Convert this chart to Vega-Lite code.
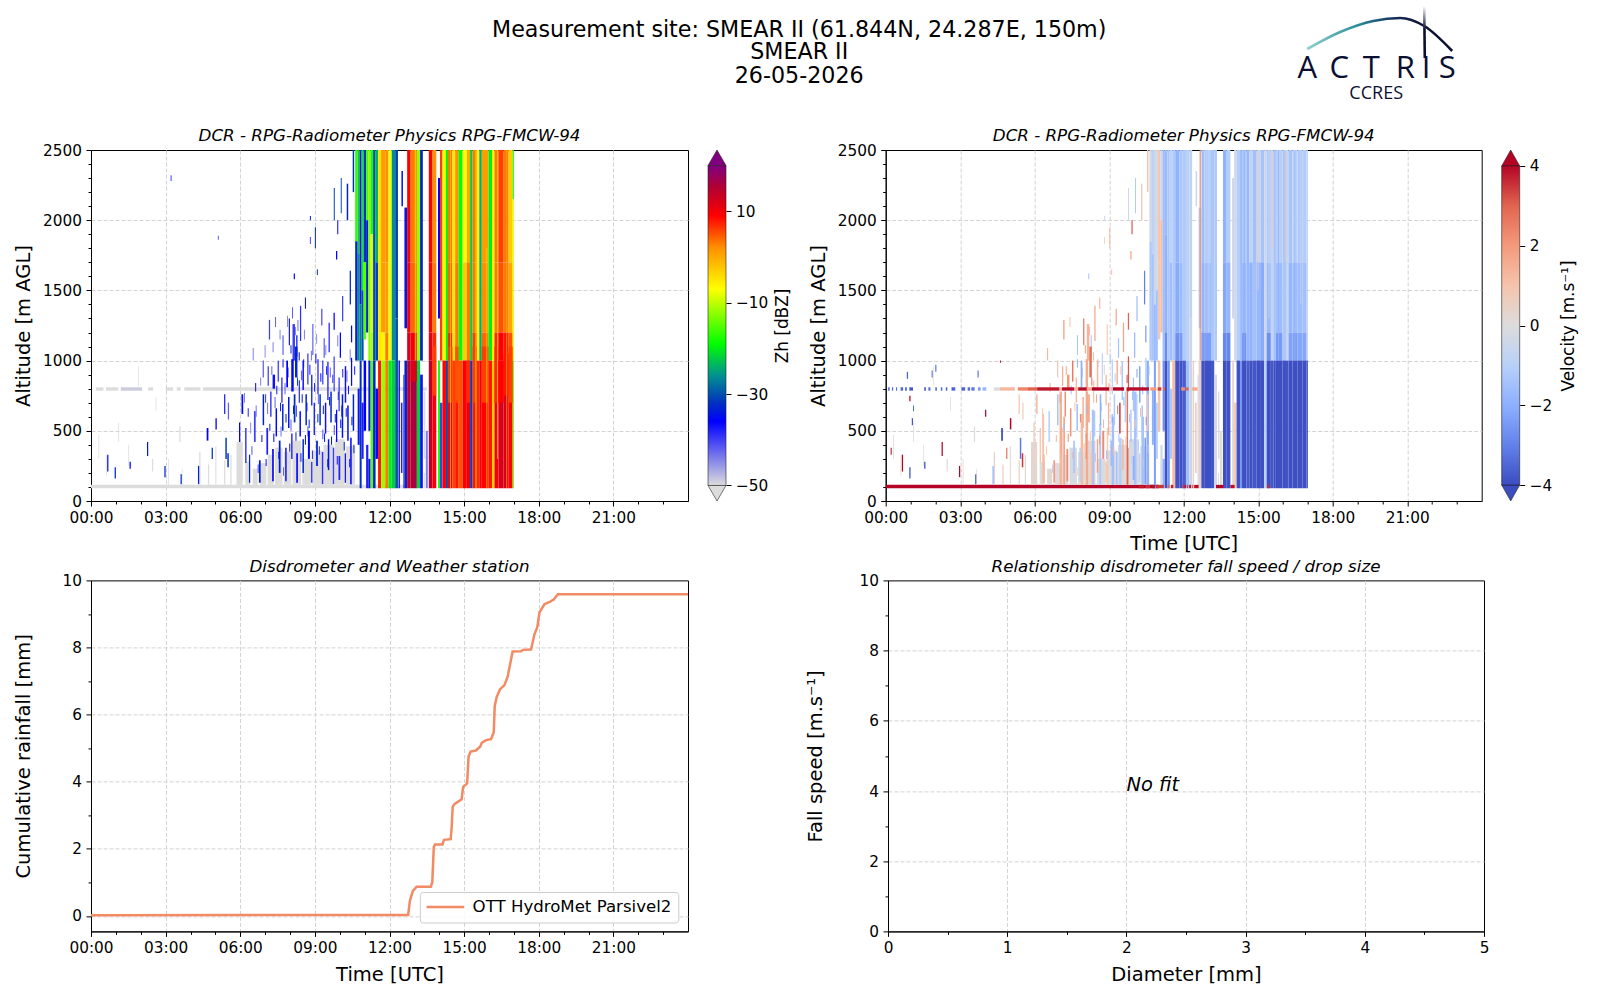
{
"$schema":"https://vega.github.io/schema/vega-lite/v6.json",
"padding":{"left":12,"top":0,"right":0,"bottom":0},
"background":"white",
"config":{"font":"DejaVu Sans","view":{"stroke":"black","strokeWidth":1},
"axis":{"labelFontSize":15.3,"titleFontSize":19.5,"titleFontWeight":"normal","labelColor":"black","titleColor":"black","tickColor":"black","domainColor":"black","gridColor":"#d3d3d3","gridDash":[4,2],"labelOverlap":false,"labelFlush":false,"labelPadding":4.5},
"title":{"fontSize":16.7,"fontStyle":"italic","fontWeight":"normal","offset":-2}},
"datasets":{
"cells":[
{"t":0,"e":11,"a":91,"b":115,"z":-50,"v":4},{"t":11,"e":12.7,"a":91,"b":115,"z":-50},
{"t":0.2,"e":0.5,"a":786,"b":810,"z":-50},{"t":0.6,"e":1.1,"a":786,"b":810,"z":-50},{"t":1.2,"e":2.05,"a":786,"b":810,"z":-49},{"t":2.3,"e":2.5,"a":786,"b":810,"z":-50},{"t":3,"e":3.3,"a":786,"b":810,"z":-50},{"t":3.45,"e":3.6,"a":786,"b":810,"z":-50},{"t":3.75,"e":4.4,"a":786,"b":810,"z":-50},{"t":4.5,"e":13.5,"a":786,"b":810,"z":-50},
{"t":1.1,"e":1.13,"a":420,"b":560,"z":-50,"v":0.1},{"t":1.5,"e":1.53,"a":250,"b":400,"z":-50,"v":0},{"t":0.3,"e":0.33,"a":300,"b":470,"z":-50,"v":0.2},{"t":0.6,"e":0.63,"a":180,"b":330,"z":-50,"v":0.1},{"t":1.9,"e":1.93,"a":820,"b":960,"z":-50,"v":0},{"t":2.6,"e":2.63,"a":640,"b":740,"z":-50,"v":0.2},{"t":3.55,"e":3.6,"a":420,"b":530,"z":-50,"v":0},{"t":3.1,"e":3.13,"a":115,"b":300,"z":-50,"v":0.3},{"t":3.65,"e":3.68,"a":115,"b":230,"z":-50,"v":0.1},{"t":2.45,"e":2.5,"a":210,"b":300,"z":-50,"v":0},{"t":4.35,"e":4.4,"a":115,"b":350,"z":-50,"v":0.4},{"t":4.7,"e":4.75,"a":115,"b":260,"z":-50,"v":0.6},{"t":5.0,"e":5.04,"a":115,"b":390,"z":-50,"v":0.2},{"t":5.35,"e":5.4,"a":115,"b":290,"z":-50,"v":0.5},{"t":5.6,"e":5.65,"a":115,"b":330,"z":-50,"v":0.1},
{"t":5.85,"e":6.1,"a":115,"b":420,"z":-50,"v":0.3},{"t":6.2,"e":6.4,"a":115,"b":280,"z":-50,"v":0},{"t":6.5,"e":6.7,"a":115,"b":230,"z":-50,"v":0.2},{"t":6.8,"e":7.05,"a":115,"b":270,"z":-50,"v":0},{"t":7.1,"e":7.35,"a":115,"b":330,"z":-50,"v":0.1},{"t":7.4,"e":7.7,"a":115,"b":380,"z":-50,"v":-0.2},{"t":7.75,"e":8.05,"a":115,"b":350,"z":-50,"v":0},{"t":8.1,"e":8.45,"a":115,"b":430,"z":-50,"v":0.2},{"t":8.5,"e":8.85,"a":115,"b":300,"z":-50,"v":-0.1},{"t":8.9,"e":9.3,"a":115,"b":360,"z":-50,"v":0},{"t":9.35,"e":9.75,"a":115,"b":400,"z":-50,"v":0.1},{"t":9.8,"e":10.2,"a":115,"b":440,"z":-50,"v":-0.2},{"t":10.25,"e":10.62,"a":115,"b":390,"z":-50,"v":0},
{"t":6.3,"e":6.38,"a":115,"b":620,"v":1},{"t":7,"e":7.1,"a":115,"b":780,"v":1.4},{"t":7.15,"e":7.22,"a":115,"b":600,"v":1.7},{"t":7.85,"e":7.95,"a":115,"b":620,"v":1.2},{"t":8.05,"e":8.15,"a":115,"b":780,"v":1.6},{"t":8.9,"e":8.96,"a":115,"b":520,"v":0.8},{"t":9.7,"e":9.76,"a":115,"b":800,"v":2.8},{"t":8.3,"e":8.4,"a":115,"b":650,"v":-1.4},{"t":8.6,"e":8.68,"a":115,"b":550,"v":-1.2},{"t":9.1,"e":9.2,"a":115,"b":600,"v":-1.5},{"t":9.4,"e":9.5,"a":115,"b":450,"v":-1.1},{"t":10,"e":10.1,"a":115,"b":780,"v":-1.4},{"t":10.3,"e":10.4,"a":115,"b":600,"v":-1.5},{"t":10.5,"e":10.6,"a":115,"b":1000,"v":-2},
{"t":6.15,"e":6.19,"a":700,"b":770,"z":-44},{"t":6.4,"e":6.44,"a":480,"b":560,"z":-45},{"t":6.62,"e":6.66,"a":600,"b":680,"z":-43},{"t":6.8,"e":6.84,"a":820,"b":880,"z":-44},{"t":6.98,"e":7.02,"a":1020,"b":1110,"z":-45},{"t":7.08,"e":7.12,"a":620,"b":700,"z":-43},{"t":7.3,"e":7.34,"a":1060,"b":1130,"z":-44},{"t":7.38,"e":7.42,"a":660,"b":740,"z":-42},{"t":7.58,"e":7.62,"a":1150,"b":1220,"z":-44},{"t":7.62,"e":7.66,"a":460,"b":530,"z":-43},{"t":7.78,"e":7.82,"a":760,"b":840,"z":-42},{"t":7.88,"e":7.92,"a":1240,"b":1320,"z":-45},{"t":8.02,"e":8.06,"a":500,"b":580,"z":-42},{"t":8.08,"e":8.12,"a":1300,"b":1380,"z":-42},{"t":8.24,"e":8.28,"a":600,"b":680,"z":-41},{"t":8.3,"e":8.34,"a":1210,"b":1290,"z":-43},{"t":8.44,"e":8.48,"a":860,"b":930,"z":-42},{"t":8.56,"e":8.6,"a":1150,"b":1220,"z":-44},{"t":8.7,"e":8.74,"a":460,"b":530,"z":-41},{"t":8.84,"e":8.88,"a":1000,"b":1070,"z":-43},{"t":9.05,"e":9.09,"a":1120,"b":1190,"z":-45},{"t":9.12,"e":9.16,"a":690,"b":760,"z":-42},{"t":9.3,"e":9.34,"a":440,"b":510,"z":-41},{"t":9.42,"e":9.46,"a":1040,"b":1110,"z":-44},{"t":9.6,"e":9.64,"a":880,"b":950,"z":-42},{"t":9.76,"e":9.8,"a":470,"b":540,"z":-41},{"t":9.9,"e":9.94,"a":1100,"b":1180,"z":-44},{"t":10.05,"e":10.09,"a":600,"b":680,"z":-42},{"t":10.27,"e":10.31,"a":850,"b":930,"z":-43},{"t":10.4,"e":10.44,"a":1000,"b":1080,"z":-44},
{"t":6.3,"e":6.34,"a":600,"b":660,"z":-38,"v":1},{"t":6.45,"e":6.49,"a":330,"b":390,"z":-41,"v":0.9},{"t":6.6,"e":6.64,"a":780,"b":840,"z":-36,"v":1.6},{"t":6.7,"e":6.74,"a":200,"b":260,"z":-40,"v":-1},{"t":6.85,"e":6.89,"a":420,"b":470,"z":-35,"v":1.3},{"t":7,"e":7.04,"a":700,"b":760,"z":-39,"v":2},{"t":7.02,"e":7.06,"a":250,"b":300,"z":-37,"v":1.1},{"t":7.17,"e":7.21,"a":500,"b":550,"z":-34,"v":-1.6},{"t":7.25,"e":7.29,"a":900,"b":960,"z":-42,"v":1.8},{"t":7.33,"e":7.37,"a":420,"b":480,"z":-36,"v":2.2},{"t":7.45,"e":7.49,"a":760,"b":820,"z":-33,"v":-1.5},{"t":7.52,"e":7.56,"a":300,"b":350,"z":-40,"v":1.6},{"t":7.6,"e":7.64,"a":640,"b":700,"z":-37,"v":0.9},{"t":7.7,"e":7.74,"a":950,"b":1010,"z":-35,"v":-2},{"t":7.72,"e":7.76,"a":180,"b":240,"z":-42,"v":1},{"t":7.82,"e":7.86,"a":560,"b":620,"z":-34,"v":2.4},{"t":7.9,"e":7.94,"a":880,"b":950,"z":-38,"v":-1},{"t":7.97,"e":8.01,"a":350,"b":410,"z":-36,"v":1.4},{"t":8.02,"e":8.06,"a":1050,"b":1110,"z":-33,"v":2},{"t":8.12,"e":8.16,"a":620,"b":680,"z":-32,"v":-1.8},{"t":8.18,"e":8.22,"a":1180,"b":1240,"z":-36,"v":1.5},{"t":8.22,"e":8.26,"a":430,"b":490,"z":-33,"v":1},{"t":8.28,"e":8.32,"a":820,"b":880,"z":-31,"v":2.8},{"t":8.35,"e":8.39,"a":1000,"b":1060,"z":-35,"v":1.2},{"t":8.42,"e":8.46,"a":280,"b":340,"z":-37,"v":-1.3},{"t":8.47,"e":8.51,"a":700,"b":760,"z":-34,"v":1.7},{"t":8.53,"e":8.57,"a":950,"b":1010,"z":-39,"v":-0.8},{"t":8.6,"e":8.64,"a":400,"b":470,"z":-35,"v":2.1},{"t":8.66,"e":8.7,"a":640,"b":700,"z":-36,"v":-1.1},{"t":8.75,"e":8.79,"a":520,"b":580,"z":-33,"v":1.3},{"t":8.78,"e":8.82,"a":900,"b":970,"z":-37,"v":0.7},{"t":8.88,"e":8.92,"a":300,"b":360,"z":-38,"v":-1.7},{"t":8.97,"e":9.01,"a":780,"b":840,"z":-34,"v":1.8},{"t":9.02,"e":9.06,"a":980,"b":1050,"z":-36,"v":-1.2},{"t":9.1,"e":9.14,"a":560,"b":620,"z":-32,"v":-2.2},{"t":9.16,"e":9.2,"a":330,"b":390,"z":-39,"v":1.2},{"t":9.22,"e":9.26,"a":850,"b":910,"z":-35,"v":-1},{"t":9.32,"e":9.36,"a":620,"b":680,"z":-37,"v":2.6},{"t":9.37,"e":9.41,"a":420,"b":480,"z":-34,"v":-1.4},{"t":9.45,"e":9.49,"a":900,"b":960,"z":-38,"v":1.1},{"t":9.5,"e":9.54,"a":240,"b":300,"z":-36,"v":-0.8},{"t":9.57,"e":9.61,"a":680,"b":740,"z":-33,"v":-1.9},{"t":9.65,"e":9.69,"a":400,"b":460,"z":-35,"v":0.9},{"t":9.7,"e":9.74,"a":840,"b":900,"z":-39,"v":3.4},{"t":9.8,"e":9.84,"a":560,"b":620,"z":-34,"v":-1.3},{"t":9.88,"e":9.92,"a":260,"b":320,"z":-37,"v":-0.7},{"t":9.92,"e":9.96,"a":720,"b":780,"z":-32,"v":-1.6},{"t":10.02,"e":10.06,"a":520,"b":580,"z":-36,"v":0.8},{"t":10.1,"e":10.14,"a":880,"b":940,"z":-38,"v":-2.3},{"t":10.16,"e":10.2,"a":360,"b":420,"z":-33,"v":-1},{"t":10.24,"e":10.28,"a":600,"b":660,"z":-35,"v":1.2},{"t":10.33,"e":10.37,"a":760,"b":820,"z":-37,"v":-1.7},{"t":10.38,"e":10.42,"a":240,"b":300,"z":-34,"v":-0.6},{"t":10.47,"e":10.51,"a":540,"b":600,"z":-36,"v":-2.5},{"t":10.55,"e":10.59,"a":340,"b":400,"z":-33,"v":-1.2},{"t":10.58,"e":10.62,"a":900,"b":960,"z":-37,"v":-1.8},
{"t":3.2,"e":3.24,"a":2280,"b":2320,"z":-40},{"t":5.1,"e":5.13,"a":1860,"b":1890,"z":-38},{"t":8.8,"e":8.84,"a":2000,"b":2030,"z":-32,"v":-0.6},{"t":9,"e":9.04,"a":1800,"b":1950,"z":-33,"v":1.2},{"t":9.76,"e":9.8,"a":2000,"b":2230,"z":-31,"v":-0.5},{"t":10.04,"e":10.08,"a":2050,"b":2300,"z":-30,"v":-1.2},{"t":10.28,"e":10.34,"a":2000,"b":2260,"z":-33,"v":0.6},{"t":10.52,"e":10.58,"a":2200,"b":2500,"z":-32,"v":1},{"t":9.9,"e":9.94,"a":1900,"b":2000,"z":-36,"v":3.5},{"t":8.8,"e":8.83,"a":1830,"b":1880,"z":-35,"v":1},{"t":9.85,"e":9.9,"a":1720,"b":1780,"z":-36,"v":1.8},{"t":8.15,"e":8.2,"a":1580,"b":1620,"z":-37,"v":-1},{"t":9.08,"e":9.12,"a":1610,"b":1650,"z":-38,"v":0.8},{"t":8.6,"e":8.64,"a":1370,"b":1450,"z":-36,"v":1.6},{"t":9.26,"e":9.3,"a":1250,"b":1370,"z":-38,"v":2.2},{"t":9.75,"e":9.8,"a":1220,"b":1340,"z":-36,"v":3},{"t":10.1,"e":10.14,"a":1280,"b":1460,"z":-34,"v":-2},{"t":10.4,"e":10.45,"a":1400,"b":1640,"z":-33,"v":-3},{"t":10.45,"e":10.5,"a":1130,"b":1250,"z":-35,"v":-2.4},{"t":7.15,"e":7.2,"a":1150,"b":1290,"z":-40,"v":2},{"t":7.4,"e":7.44,"a":1240,"b":1310,"z":-42,"v":1},{"t":7.7,"e":7.74,"a":1040,"b":1180,"z":-40,"v":-1.5},{"t":7.95,"e":8,"a":1110,"b":1300,"z":-38,"v":2.6},{"t":8.1,"e":8.2,"a":1000,"b":1260,"z":-40,"v":1.4},{"t":8.25,"e":8.3,"a":1030,"b":1180,"z":-34,"v":-1},{"t":8.4,"e":8.45,"a":1140,"b":1390,"z":-39,"v":1.7},{"t":8.9,"e":8.94,"a":1040,"b":1260,"z":-40,"v":1.1},{"t":9.35,"e":9.4,"a":1020,"b":1160,"z":-42,"v":-1.4},{"t":9.55,"e":9.6,"a":1060,"b":1270,"z":-38,"v":1.8},{"t":10,"e":10.05,"a":1020,"b":1200,"z":-36,"v":-1.7},{"t":6.5,"e":6.54,"a":1000,"b":1090,"z":-44,"v":1.5},
{"t":6.9,"e":6.95,"a":880,"b":1000,"z":-42,"v":0.8},{"t":7.1,"e":7.15,"a":820,"b":960,"z":-40,"v":1.5},{"t":7.3,"e":7.4,"a":800,"b":900,"z":-37,"v":2},{"t":7.5,"e":7.56,"a":850,"b":1000,"z":-41,"v":2.6},{"t":7.65,"e":7.7,"a":700,"b":880,"z":-38,"v":1.4},{"t":7.85,"e":7.92,"a":810,"b":1000,"z":-36,"v":-2},{"t":8.05,"e":8.15,"a":780,"b":1010,"z":-35,"v":1.6},{"t":8.2,"e":8.3,"a":880,"b":1100,"z":-33,"v":2.8},{"t":8.35,"e":8.4,"a":700,"b":860,"z":-39,"v":1},{"t":8.5,"e":8.56,"a":790,"b":1000,"z":-37,"v":1.3},{"t":8.7,"e":8.74,"a":830,"b":1050,"z":-36,"v":-1.2},{"t":8.85,"e":8.9,"a":680,"b":900,"z":-34,"v":1.4},{"t":9.1,"e":9.15,"a":760,"b":1010,"z":-38,"v":-1},{"t":9.3,"e":9.34,"a":830,"b":1000,"z":-35,"v":2.4},{"t":9.5,"e":9.55,"a":720,"b":990,"z":-37,"v":-1.5},{"t":9.75,"e":9.8,"a":780,"b":1030,"z":-40,"v":3.2},{"t":9.95,"e":10,"a":640,"b":880,"z":-39,"v":-1.3},{"t":10.2,"e":10.26,"a":700,"b":960,"z":-37,"v":-2.2},{"t":10.45,"e":10.5,"a":820,"b":1020,"z":-35,"v":-1.1},
{"t":5.35,"e":5.4,"a":620,"b":760,"z":-38,"v":0.9},{"t":5.5,"e":5.55,"a":580,"b":700,"z":-42,"v":0.6},{"t":5.95,"e":6,"a":420,"b":560,"z":-36,"v":0.9},{"t":6.05,"e":6.12,"a":620,"b":760,"z":-35,"v":1.1},{"t":6.2,"e":6.25,"a":270,"b":520,"z":-37,"v":1},{"t":6.35,"e":6.4,"a":130,"b":330,"z":-33,"v":1.4},{"t":6.55,"e":6.62,"a":420,"b":640,"z":-40,"v":-0.8},{"t":6.75,"e":6.82,"a":130,"b":290,"z":-34,"v":2},{"t":6.9,"e":6.96,"a":540,"b":760,"z":-33,"v":-1.4},{"t":7.05,"e":7.12,"a":330,"b":520,"z":-38,"v":1.6},{"t":7.2,"e":7.26,"a":600,"b":780,"z":-40,"v":2.2},{"t":7.28,"e":7.35,"a":140,"b":370,"z":-37,"v":2.3},{"t":7.42,"e":7.48,"a":460,"b":660,"z":-35,"v":2.1},{"t":7.55,"e":7.62,"a":200,"b":430,"z":-34,"v":-1.3},{"t":7.68,"e":7.74,"a":500,"b":690,"z":-33,"v":-1.6},{"t":7.8,"e":7.87,"a":140,"b":380,"z":-39,"v":-1},{"t":7.92,"e":7.98,"a":520,"b":740,"z":-34,"v":1.5},{"t":8.05,"e":8.1,"a":300,"b":480,"z":-36,"v":2.2},{"t":8.15,"e":8.22,"a":560,"b":760,"z":-32,"v":1.7},{"t":8.25,"e":8.32,"a":130,"b":340,"z":-37,"v":1},{"t":8.38,"e":8.44,"a":460,"b":640,"z":-35,"v":-1.2},{"t":8.5,"e":8.56,"a":200,"b":440,"z":-33,"v":1.8},{"t":8.62,"e":8.68,"a":540,"b":760,"z":-33,"v":-2},{"t":8.72,"e":8.8,"a":300,"b":500,"z":-36,"v":2.3},{"t":8.85,"e":8.9,"a":130,"b":280,"z":-38,"v":1.2},{"t":8.95,"e":9,"a":470,"b":700,"z":-35,"v":1.5},{"t":9.05,"e":9.12,"a":250,"b":430,"z":-34,"v":-1.6},{"t":9.18,"e":9.24,"a":540,"b":760,"z":-32,"v":-1.2},{"t":9.28,"e":9.34,"a":120,"b":350,"z":-39,"v":-1.7},{"t":9.4,"e":9.46,"a":480,"b":700,"z":-37,"v":3.5},{"t":9.52,"e":9.58,"a":220,"b":440,"z":-34,"v":1.3},{"t":9.62,"e":9.68,"a":560,"b":780,"z":-33,"v":-0.9},{"t":9.72,"e":9.78,"a":120,"b":380,"z":-40,"v":3},{"t":9.85,"e":9.9,"a":420,"b":650,"z":-36,"v":-1.5},{"t":9.95,"e":10.02,"a":150,"b":320,"z":-38,"v":-2},{"t":10.08,"e":10.14,"a":450,"b":760,"z":-34,"v":-1},{"t":10.2,"e":10.25,"a":130,"b":340,"z":-37,"v":-0.8},{"t":10.3,"e":10.36,"a":430,"b":680,"z":-35,"v":-1.3},{"t":10.42,"e":10.48,"a":120,"b":450,"z":-36,"v":-2.5},{"t":10.52,"e":10.58,"a":500,"b":760,"z":-33,"v":0.9},
{"t":0.65,"e":0.7,"a":210,"b":330,"z":-34,"v":4},{"t":0.95,"e":1,"a":160,"b":240,"z":-33,"v":-4},{"t":1.55,"e":1.6,"a":230,"b":280,"z":-36,"v":-4},{"t":2.25,"e":2.3,"a":320,"b":420,"z":-34,"v":4},{"t":2.95,"e":3,"a":170,"b":250,"z":-33,"v":4},{"t":3.6,"e":3.65,"a":120,"b":190,"z":-32,"v":-3.5},{"t":4.3,"e":4.35,"a":120,"b":250,"z":-33,"v":-2},{"t":4.65,"e":4.72,"a":430,"b":520,"z":-36,"v":-4},{"t":4.85,"e":4.9,"a":300,"b":380,"z":-32,"v":2.6},{"t":5,"e":5.06,"a":510,"b":590,"z":-38,"v":4},{"t":5.4,"e":5.46,"a":300,"b":450,"z":-31,"v":-3.2},{"t":5.48,"e":5.54,"a":240,"b":340,"z":-32,"v":3.5},
{"t":2,"e":2.04,"a":920,"b":970,"v":-3.8},{"t":1.85,"e":1.89,"a":880,"b":930,"v":-3.6},{"t":0.85,"e":0.9,"a":870,"b":920,"v":-3.6},{"t":3.7,"e":3.74,"a":880,"b":930,"v":-3.8},{"t":4.6,"e":4.64,"a":985,"b":1000,"v":4},{"t":0.95,"e":1,"a":710,"b":750,"v":4},{"t":1.1,"e":1.14,"a":640,"b":680,"v":-3.5},{"t":1.05,"e":1.1,"a":540,"b":590,"v":-3.8},{"t":4,"e":4.05,"a":600,"b":650,"v":4},{"t":0.2,"e":0.24,"a":330,"b":380,"v":4},
{"t":10.62,"e":10.72,"a":1850,"b":2500,"z":-17,"v":-0.4},{"t":10.62,"e":10.72,"a":1000,"b":1850,"z":-33,"v":-1.2},
{"t":10.72,"e":10.8,"a":1760,"b":2500,"z":-22,"v":-0.9},{"t":10.72,"e":10.8,"a":1000,"b":1760,"z":-26,"v":-1.4},{"t":10.72,"e":10.8,"a":400,"b":800,"z":-37,"v":-2},
{"t":10.8,"e":10.88,"a":1400,"b":2500,"z":-34,"v":-0.6},{"t":10.8,"e":10.88,"a":1000,"b":1400,"z":-27,"v":-1.7},{"t":10.8,"e":10.88,"a":91,"b":1000,"z":-32,"v":-2.4},
{"t":10.88,"e":10.96,"a":1500,"b":2500,"z":-20,"v":-0.3},{"t":10.88,"e":10.96,"a":1000,"b":1500,"z":-30,"v":-1.5},{"t":10.88,"e":10.96,"a":300,"b":700,"z":-38,"v":-1},
{"t":10.96,"e":11.06,"a":1700,"b":2500,"z":-32,"v":0.9},{"t":10.96,"e":11.06,"a":1150,"b":1700,"z":-15,"v":0.8},{"t":10.96,"e":11.06,"a":500,"b":1000,"z":-36,"v":1},
{"t":11.06,"e":11.15,"a":2000,"b":2500,"z":-16,"v":-0.5},{"t":11.06,"e":11.15,"a":1200,"b":2000,"z":-33,"v":1.2},{"t":11.06,"e":11.15,"a":91,"b":400,"z":-38,"v":-0.3},
{"t":11.15,"e":11.24,"a":1000,"b":2500,"z":-13,"v":-1.6},{"t":11.15,"e":11.24,"a":500,"b":1000,"z":-34,"v":-2.8},{"t":11.15,"e":11.24,"a":91,"b":300,"z":-37,"v":-2},
{"t":11.24,"e":11.34,"a":1900,"b":2500,"z":-18,"v":-1.7},{"t":11.24,"e":11.34,"a":1200,"b":1900,"z":-9,"v":-1.9},{"t":11.24,"e":11.34,"a":1000,"b":1200,"z":-11,"v":-2.8},{"t":11.24,"e":11.34,"a":91,"b":1000,"z":-15,"v":-3.9},
{"t":11.34,"e":11.44,"a":1000,"b":2500,"z":-30,"v":-1.3},{"t":11.34,"e":11.44,"a":91,"b":1000,"z":-33,"v":-2.6},
{"t":11.44,"e":11.54,"a":1700,"b":2500,"z":-24,"v":-0.8},{"t":11.44,"e":11.54,"a":1000,"b":1700,"z":-31,"v":-1.6},{"t":11.44,"e":11.54,"a":300,"b":800,"z":-35,"v":-1.2},
{"t":11.54,"e":11.66,"a":1000,"b":2500,"z":-5,"v":-1.2},{"t":11.54,"e":11.66,"a":91,"b":1000,"z":8,"v":1.2},
{"t":11.66,"e":11.83,"a":1700,"b":2500,"z":1,"v":-1.9},{"t":11.66,"e":11.83,"a":1200,"b":1700,"z":1,"v":-2.1},{"t":11.66,"e":11.83,"a":1000,"b":1200,"z":-6,"v":-2.7},{"t":11.66,"e":11.83,"a":91,"b":1000,"z":-12,"v":-3.9},
{"t":11.83,"e":11.96,"a":1700,"b":2500,"z":2,"v":-1.3},{"t":11.83,"e":11.96,"a":1200,"b":1700,"z":1,"v":-1.7},{"t":11.83,"e":11.96,"a":1000,"b":1200,"z":3,"v":-2.5},{"t":11.83,"e":11.96,"a":91,"b":1000,"z":3,"v":-3.9},
{"t":11.96,"e":12.09,"a":1000,"b":2500,"z":-8,"v":-1.2},{"t":11.96,"e":12.09,"a":91,"b":1000,"z":-20,"v":-3.7},
{"t":12.09,"e":12.23,"a":1000,"b":2500,"z":-26,"v":-0.9},{"t":12.09,"e":12.23,"a":91,"b":1000,"z":-22,"v":-1.5},
{"t":12.23,"e":12.34,"a":1300,"b":2500,"z":-31,"v":-0.8},{"t":12.23,"e":12.34,"a":91,"b":1300,"z":-30,"v":-0.5},
{"t":12.36,"e":12.42,"a":91,"b":1000,"z":-37,"v":0.4},{"t":12.48,"e":12.54,"a":2100,"b":2350,"z":-35,"v":-0.5},{"t":12.46,"e":12.52,"a":200,"b":700,"z":-38,"v":1},{"t":12.56,"e":12.6,"a":91,"b":900,"z":-36,"v":-0.8},
{"t":12.6,"e":12.71,"a":1230,"b":2090,"z":-34,"v":-0.9},{"t":12.6,"e":12.71,"a":91,"b":1000,"z":-33,"v":0.5},{"t":12.64,"e":12.69,"a":1000,"b":2500,"v":2.2},
{"t":12.71,"e":12.85,"a":1700,"b":2500,"z":9,"v":-1.2},{"t":12.71,"e":12.85,"a":1200,"b":1700,"z":10,"v":-1.6},{"t":12.71,"e":12.85,"a":1000,"b":1200,"z":12,"v":-2.6},{"t":12.71,"e":12.85,"a":91,"b":1000,"z":14,"v":-3.9},
{"t":12.85,"e":13.1,"a":1700,"b":2500,"z":3,"v":-1.1},{"t":12.85,"e":13.1,"a":1200,"b":1700,"z":4,"v":-1.5},{"t":12.85,"e":13.1,"a":1000,"b":1200,"z":10,"v":-2.4},{"t":12.85,"e":13.1,"a":91,"b":1000,"z":16,"v":-3.95},
{"t":13.1,"e":13.23,"a":1000,"b":2500,"z":-12,"v":-1.3},{"t":13.1,"e":13.23,"a":91,"b":1000,"z":-22,"v":-3.8},
{"t":13.23,"e":13.34,"a":1000,"b":2500,"z":-33,"v":-1.2},{"t":13.23,"e":13.34,"a":91,"b":900,"z":-37,"v":-0.3},
{"t":13.38,"e":13.44,"a":300,"b":780,"z":-50,"v":0},{"t":13.46,"e":13.54,"a":91,"b":500,"z":-44,"v":0.1},{"t":13.38,"e":13.42,"a":91,"b":200,"z":-50,"v":0},
{"t":13.58,"e":13.73,"a":1700,"b":2500,"z":9,"v":-1.9},{"t":13.58,"e":13.73,"a":1200,"b":1700,"z":9,"v":-2.2},{"t":13.58,"e":13.73,"a":1000,"b":1200,"z":11,"v":-2.9},{"t":13.58,"e":13.73,"a":91,"b":1000,"z":14,"v":-3.95},
{"t":13.73,"e":13.88,"a":1700,"b":2500,"z":2,"v":-1.1},{"t":13.73,"e":13.88,"a":1200,"b":1700,"z":3,"v":-1.8},{"t":13.73,"e":13.88,"a":1000,"b":1200,"z":7,"v":-2.9},{"t":13.73,"e":13.88,"a":91,"b":1000,"z":10,"v":-3.9},
{"t":13.95,"e":14.03,"a":1300,"b":2300,"z":-36,"v":-0.5},{"t":13.95,"e":14.03,"a":91,"b":1000,"z":-18,"v":0.2},
{"t":14.03,"e":14.13,"a":1000,"b":2500,"z":6,"v":-0.3},{"t":14.03,"e":14.13,"a":91,"b":700,"z":-40,"v":0.8},
{"t":14.13,"e":14.27,"a":1000,"b":2500,"z":-8,"v":-1.1},{"t":14.13,"e":14.27,"a":91,"b":1000,"z":9,"v":-3.9},
{"t":14.27,"e":14.35,"a":1000,"b":2500,"z":-20,"v":-1.7},{"t":14.27,"e":14.35,"a":91,"b":1000,"z":-30,"v":-2.6},
{"t":14.35,"e":14.53,"a":1700,"b":2500,"z":3,"v":-1.2},{"t":14.35,"e":14.53,"a":1200,"b":1700,"z":4,"v":-1.7},{"t":14.35,"e":14.53,"a":1000,"b":1200,"z":7,"v":-2.6},{"t":14.35,"e":14.53,"a":91,"b":1000,"z":10,"v":-3.95},
{"t":14.53,"e":14.64,"a":1000,"b":2500,"z":-5,"v":-1.8},{"t":14.53,"e":14.64,"a":91,"b":1000,"z":6,"v":-3.7},
{"t":14.64,"e":14.78,"a":1700,"b":2500,"z":2,"v":-0.8},{"t":14.64,"e":14.78,"a":1000,"b":1700,"z":3,"v":-1.9},{"t":14.64,"e":14.78,"a":91,"b":1000,"z":8,"v":-3.9},
{"t":14.78,"e":14.94,"a":1000,"b":2500,"z":-19,"v":-1.5},{"t":14.78,"e":14.94,"a":91,"b":1000,"z":5,"v":-3.8},
{"t":14.94,"e":15.11,"a":1700,"b":2500,"z":-7,"v":-0.6},{"t":14.94,"e":15.11,"a":1000,"b":1700,"z":-3,"v":-1.8},{"t":14.94,"e":15.11,"a":91,"b":1000,"z":9,"v":-3.95},
{"t":15.11,"e":15.24,"a":1700,"b":2500,"z":0,"v":-1.4},{"t":15.11,"e":15.24,"a":1000,"b":1700,"z":3,"v":-2.1},{"t":15.11,"e":15.24,"a":91,"b":1000,"z":11,"v":-3.9},
{"t":15.24,"e":15.34,"a":1000,"b":2500,"z":-22,"v":-0.4},{"t":15.24,"e":15.34,"a":91,"b":1000,"z":-31,"v":-1},
{"t":15.34,"e":15.51,"a":1700,"b":2500,"z":3,"v":-1.2},{"t":15.34,"e":15.51,"a":1200,"b":1700,"z":3,"v":-1.7},{"t":15.34,"e":15.51,"a":1000,"b":1200,"z":6,"v":-2.7},{"t":15.34,"e":15.51,"a":91,"b":1000,"z":8,"v":-3.95},
{"t":15.51,"e":15.61,"a":1000,"b":2500,"z":-6,"v":-0.7},{"t":15.51,"e":15.61,"a":91,"b":1000,"z":7,"v":-3.8},
{"t":15.61,"e":15.71,"a":1000,"b":2500,"z":-24,"v":-1.5},{"t":15.61,"e":15.71,"a":91,"b":1000,"z":10,"v":-3.9},
{"t":15.71,"e":15.98,"a":1700,"b":2500,"z":1,"v":-1},{"t":15.71,"e":15.98,"a":1200,"b":1700,"z":2,"v":-1.6},{"t":15.71,"e":15.98,"a":1000,"b":1200,"z":4,"v":-2.5},{"t":15.71,"e":15.98,"a":91,"b":1000,"z":9,"v":-3.95},
{"t":15.98,"e":16.12,"a":1000,"b":2500,"z":-20,"v":-1.3},{"t":15.98,"e":16.12,"a":91,"b":1000,"z":8,"v":-3.9},
{"t":16.12,"e":16.22,"a":1000,"b":2500,"z":-6,"v":-0.6},{"t":16.12,"e":16.22,"a":91,"b":1000,"z":-3,"v":-3.85},
{"t":16.22,"e":16.38,"a":1700,"b":2500,"z":3,"v":-1.4},{"t":16.22,"e":16.38,"a":1200,"b":1700,"z":3,"v":-1.8},{"t":16.22,"e":16.38,"a":1000,"b":1200,"z":7,"v":-2.3},{"t":16.22,"e":16.38,"a":91,"b":1000,"z":10,"v":-3.95},
{"t":16.38,"e":16.59,"a":1700,"b":2500,"z":6,"v":-0.9},{"t":16.38,"e":16.59,"a":1200,"b":1700,"z":5,"v":-1.6},{"t":16.38,"e":16.59,"a":1000,"b":1200,"z":9,"v":-2.4},{"t":16.38,"e":16.59,"a":91,"b":1000,"z":12,"v":-3.95},
{"t":16.59,"e":16.79,"a":1700,"b":2500,"z":3,"v":-1.2},{"t":16.59,"e":16.79,"a":1200,"b":1700,"z":3,"v":-1.6},{"t":16.59,"e":16.79,"a":1000,"b":1200,"z":8,"v":-2.2},{"t":16.59,"e":16.79,"a":91,"b":1000,"z":12,"v":-3.95},
{"t":16.79,"e":16.95,"a":1700,"b":2500,"z":-3,"v":-1.1},{"t":16.79,"e":16.95,"a":1200,"b":1700,"z":0,"v":-1.5},{"t":16.79,"e":16.95,"a":1000,"b":1200,"z":5,"v":-2.2},{"t":16.79,"e":16.95,"a":91,"b":1000,"z":9,"v":-3.95},
{"t":16.95,"e":17,"a":2150,"b":2500,"z":-18,"v":-0.8},{"t":16.95,"e":17,"a":1000,"b":2150,"z":-8,"v":-0.8},{"t":16.95,"e":17,"a":91,"b":1000,"z":-14,"v":-3.9},
{"t":15.34,"e":15.51,"a":700,"b":1100,"z":6},{"t":15.71,"e":15.98,"a":700,"b":1100,"z":6},{"t":16.22,"e":16.38,"a":700,"b":1100,"z":7},{"t":16.38,"e":16.59,"a":700,"b":1000,"z":9},{"t":16.59,"e":16.79,"a":750,"b":1050,"z":8},{"t":16.79,"e":16.95,"a":700,"b":1100,"z":6},{"t":14.35,"e":14.53,"a":700,"b":1100,"z":6},{"t":12.85,"e":13.1,"a":850,"b":1000,"z":12},{"t":13.73,"e":13.88,"a":750,"b":1100,"z":6},{"t":14.64,"e":14.78,"a":700,"b":1100,"z":5},{"t":15.11,"e":15.24,"a":700,"b":1000,"z":7},
{"t":15.46,"e":15.49,"a":91,"b":2500,"z":-5},{"t":15.9,"e":15.93,"a":91,"b":1800,"z":-4},{"t":16.33,"e":16.36,"a":300,"b":2500,"z":-3},{"t":16.7,"e":16.73,"a":91,"b":2500,"z":0},{"t":14.44,"e":14.47,"a":91,"b":2500,"z":-2},{"t":13.02,"e":13.05,"a":1000,"b":2500,"z":-5},
{"t":12.76,"e":12.79,"a":1000,"b":2500,"v":-2.2},{"t":13,"e":13.03,"a":1200,"b":2500,"v":-0.4},{"t":14.42,"e":14.45,"a":1000,"b":2500,"v":-2.1},{"t":14.98,"e":15.01,"a":1500,"b":2500,"v":0.7},{"t":15.42,"e":15.45,"a":1300,"b":2500,"v":-0.5},{"t":15.8,"e":15.83,"a":1000,"b":2500,"v":-2},{"t":15.55,"e":15.58,"a":1800,"b":2500,"v":0.8},{"t":16.1,"e":16.13,"a":1700,"b":2500,"v":0.7},{"t":16.46,"e":16.49,"a":1000,"b":2500,"v":-1.9},{"t":16.7,"e":16.73,"a":1400,"b":2500,"v":-0.4},
{"t":0.1,"e":0.16,"a":786,"b":810,"v":-3.6},{"t":0.25,"e":0.3,"a":786,"b":810,"v":-3.5},{"t":0.42,"e":0.46,"a":786,"b":810,"v":-3.7},{"t":0.6,"e":0.7,"a":786,"b":810,"v":-3.6},{"t":0.78,"e":0.85,"a":786,"b":810,"v":-3.5},{"t":0.95,"e":1.1,"a":786,"b":810,"v":-3.7},{"t":1.55,"e":1.62,"a":786,"b":810,"v":-3.6},{"t":1.72,"e":1.8,"a":786,"b":810,"v":-3.5},{"t":2,"e":2.06,"a":786,"b":810,"v":-3.6},{"t":2.22,"e":2.28,"a":786,"b":810,"v":-3.5},{"t":2.42,"e":2.48,"a":786,"b":810,"v":-3.7},{"t":2.65,"e":2.8,"a":786,"b":810,"v":-3.6},{"t":3.05,"e":3.2,"a":786,"b":810,"v":-3.6},{"t":3.3,"e":3.4,"a":786,"b":810,"v":-3.4},{"t":3.45,"e":3.58,"a":786,"b":810,"v":-3.2},{"t":3.72,"e":3.82,"a":786,"b":810,"v":-2.6},{"t":3.9,"e":4.05,"a":786,"b":810,"v":-1.8},{"t":4.35,"e":4.6,"a":786,"b":810,"v":0},{"t":4.6,"e":5.2,"a":786,"b":810,"v":1.3},{"t":5.32,"e":5.7,"a":786,"b":810,"v":2.4},{"t":5.7,"e":6.1,"a":786,"b":810,"v":3},{"t":6.1,"e":7,"a":786,"b":810,"v":3.8},{"t":7,"e":7.1,"a":786,"b":810,"v":1.6},{"t":7.1,"e":7.6,"a":786,"b":810,"v":3.9},{"t":7.6,"e":7.75,"a":786,"b":810,"v":1.4},{"t":7.75,"e":8.1,"a":786,"b":810,"v":3.9},{"t":8.1,"e":8.3,"a":786,"b":810,"v":1.7},{"t":8.3,"e":9,"a":786,"b":810,"v":4},{"t":9.05,"e":9.12,"a":786,"b":810,"v":1.5},{"t":9.15,"e":9.6,"a":786,"b":810,"v":4},{"t":9.7,"e":10.6,"a":786,"b":810,"v":3.9},{"t":10.66,"e":10.9,"a":786,"b":810,"v":2},{"t":10.95,"e":11.1,"a":786,"b":810,"v":3.4},{"t":11.18,"e":11.25,"a":786,"b":810,"v":3},{"t":11.9,"e":12.05,"a":786,"b":810,"v":2.2},{"t":12.1,"e":12.2,"a":786,"b":810,"v":3},{"t":12.34,"e":12.56,"a":786,"b":810,"v":1.6},
{"t":10.19,"e":10.4,"a":91,"b":115,"v":3.8},{"t":10.45,"e":10.65,"a":91,"b":115,"v":3.6},{"t":10.7,"e":10.85,"a":91,"b":115,"v":3.9},{"t":10.9,"e":11.2,"a":91,"b":115,"v":3.5},{"t":11.35,"e":11.42,"a":91,"b":115,"v":3},{"t":11.48,"e":11.58,"a":91,"b":115,"v":3.7},{"t":11.95,"e":12,"a":91,"b":115,"v":3.5},{"t":12.03,"e":12.1,"a":91,"b":115,"v":3.8},{"t":12.14,"e":12.18,"a":91,"b":115,"v":3.6},{"t":12.22,"e":12.3,"a":91,"b":115,"v":3.9},{"t":12.34,"e":12.38,"a":91,"b":115,"v":3.3},{"t":12.42,"e":12.6,"a":91,"b":115,"v":3.9},{"t":13.3,"e":13.6,"a":91,"b":115,"v":4},{"t":13.88,"e":14.05,"a":91,"b":115,"v":3.9},{"t":15.36,"e":15.45,"a":91,"b":115,"v":3.6}
],
"rain":[{"h":0,"m":0.02},{"h":12.75,"m":0.03},{"h":12.82,"m":0.45},{"h":12.94,"m":0.75},{"h":13.09,"m":0.87},{"h":13.66,"m":0.87},{"h":13.72,"m":1},{"h":13.78,"m":2.05},{"h":13.83,"m":2.13},{"h":14.13,"m":2.13},{"h":14.19,"m":2.27},{"h":14.46,"m":2.29},{"h":14.5,"m":2.65},{"h":14.54,"m":3.25},{"h":14.62,"m":3.34},{"h":14.9,"m":3.48},{"h":14.96,"m":3.85},{"h":15.12,"m":3.95},{"h":15.18,"m":4.75},{"h":15.26,"m":4.9},{"h":15.47,"m":4.93},{"h":15.65,"m":5.05},{"h":15.71,"m":5.16},{"h":15.88,"m":5.24},{"h":16.08,"m":5.27},{"h":16.19,"m":5.47},{"h":16.23,"m":6.25},{"h":16.31,"m":6.53},{"h":16.44,"m":6.75},{"h":16.62,"m":6.88},{"h":16.75,"m":7.13},{"h":16.95,"m":7.88},{"h":17.29,"m":7.89},{"h":17.36,"m":7.93},{"h":17.69,"m":7.94},{"h":17.83,"m":8.4},{"h":17.94,"m":8.6},{"h":18.03,"m":9.05},{"h":18.23,"m":9.29},{"h":18.46,"m":9.37},{"h":18.6,"m":9.43},{"h":18.77,"m":9.59},{"h":24,"m":9.59}]
},
"spacing":21,
"resolve":{"scale":{"color":"independent"}},
"vconcat":[
{"width":1509,"height":100,"view":{"stroke":null},
 "encoding":{"x":{"field":"x","type":"quantitative","scale":{"domain":[90.8,1599.8],"nice":false,"zero":false},"axis":null},"y":{"field":"y","type":"quantitative","scale":{"domain":[100,0],"nice":false,"zero":false},"axis":null}},
 "layer":[
  {"data":{"values":[{"x":799,"y":23.6,"s":"Measurement site: SMEAR II (61.844N, 24.287E, 150m)"},{"x":799,"y":46,"s":"SMEAR II"},{"x":799,"y":69.5,"s":"26-05-2026"}]},"mark":{"type":"text","fontSize":22.2,"align":"center","baseline":"middle","color":"black"},"encoding":{"text":{"field":"s"}}},
  {"data":{"values":[{"x":1307,"y":43},{"x":1340,"y":26},{"x":1373,"y":15},{"x":1400,"y":12},{"x":1424,"y":20},{"x":1452,"y":45}]},"mark":{"type":"line","interpolate":"monotone","strokeWidth":2.6,"color":{"gradient":"linear","x1":0,"y1":0,"x2":1,"y2":0,"stops":[{"offset":0,"color":"#8fd3cc"},{"offset":0.35,"color":"#2a8c9c"},{"offset":0.6,"color":"#16305c"},{"offset":0.8,"color":"#0b1033"},{"offset":1,"color":"#0b1033"}]}}},
  {"data":{"values":[{"x":1424,"y":0},{"x":1424.6,"y":52}]},"mark":{"type":"line","strokeWidth":2.6,"color":{"gradient":"linear","x1":0,"y1":0,"x2":0,"y2":1,"stops":[{"offset":0,"color":"#ffffff"},{"offset":0.45,"color":"#0b1033"},{"offset":1,"color":"#0b1033"}]}}},
  {"data":{"values":[{"x":1307,"y":72,"s":"A"},{"x":1339,"y":72,"s":"C"},{"x":1371,"y":72,"s":"T"},{"x":1405,"y":72,"s":"R"},{"x":1426,"y":72,"s":"I"},{"x":1447,"y":72,"s":"S"}]},"mark":{"type":"text","font":"Open Sans","fontSize":31,"fontWeight":500,"align":"center","baseline":"alphabetic","color":"#0b1033"},"encoding":{"text":{"field":"s"}}},
  {"data":{"values":[{"x":1376,"y":93,"s":"CCRES"}]},"mark":{"type":"text","font":"Open Sans","fontSize":18,"align":"center","baseline":"alphabetic","color":"#0b1033"},"encoding":{"text":{"field":"s"}}}
 ]},
{"spacing":3.4,"resolve":{"scale":{"color":"independent"}},"vconcat":[
 {"spacing":16.7,"resolve":{"scale":{"color":"independent"}},"hconcat":[
  {"spacing":17,"resolve":{"scale":{"color":"independent"}},"hconcat":[
   {"width":597,"height":351,"title":"DCR - RPG-Radiometer Physics RPG-FMCW-94",
    "data":{"name":"cells"},"transform":[{"filter":"isValid(datum.z)"}],
    "mark":{"type":"rect"},
    "encoding":{
     "x":{"field":"t","type":"quantitative","scale":{"domain":[0,24],"nice":false},"axis":{"title":null,"values":[0,1,2,3,4,5,6,7,8,9,10,11,12,13,14,15,16,17,18,19,20,21,22,23],"labelExpr":"datum.value % 3 == 0 ? (datum.value < 10 ? '0' : '') + datum.value + ':00' : ''","tickSize":{"expr":"datum.value % 3 == 0 ? 5 : 3"},"gridOpacity":{"expr":"datum.value % 3 == 0 && datum.value > 0 ? 1 : 0"}}},
     "x2":{"field":"e"},
     "y":{"field":"a","type":"quantitative","scale":{"domain":[0,2500],"nice":false},"axis":{"title":"Altitude [m AGL]","titlePadding":9,"values":[0,100,200,300,400,500,600,700,800,900,1000,1100,1200,1300,1400,1500,1600,1700,1800,1900,2000,2100,2200,2300,2400,2500],"labelExpr":"datum.value % 500 == 0 ? datum.label : ''","format":"d","tickSize":{"expr":"datum.value % 500 == 0 ? 5 : 3"},"gridOpacity":{"expr":"datum.value % 500 == 0 && datum.value > 0 && datum.value < 2500 ? 1 : 0"}}},
     "y2":{"field":"b"},
     "color":{"field":"z","type":"quantitative","legend":null,"scale":{"interpolate":"rgb","domain":[-50,-36,-32,-26,-19,-7,2,9,15,20],"range":["#dcdcdc","#0000ff","#0030c0","#009090","#00ff00","#ffff00","#ff9000","#ff0000","#b40030","#800080"]}}}},
   {"width":18,"height":351,"view":{"stroke":null},
    "encoding":{"x":{"field":"x","type":"quantitative","scale":{"domain":[0,1],"nice":false},"axis":null},
     "y":{"field":"lo","type":"quantitative","scale":{"domain":[-53.4,23.4],"nice":false,"zero":false},"axis":{"orient":"right","title":"Zh [dBZ]","titleFontSize":16.9,"titleAngle":270,"titlePadding":24,"grid":false,"domain":false,"values":[-50,-30,-10,10],"tickSize":5}}},
    "layer":[
     {"data":{"values":[{"x":0,"lo":-50,"up":-50},{"x":0.5,"lo":-50,"up":-53.4},{"x":1,"lo":-50,"up":-50}]},"mark":{"type":"area","color":"#dcdcdc","stroke":"#222","strokeWidth":0.6},"encoding":{"y":{"field":"lo","type":"quantitative"},"y2":{"field":"up"}}},
     {"data":{"values":[{"x":0,"lo":20,"up":20},{"x":0.5,"lo":20,"up":23.4},{"x":1,"lo":20,"up":20}]},"mark":{"type":"area","color":"#800080","stroke":"#222","strokeWidth":0.6},"encoding":{"y":{"field":"lo","type":"quantitative"},"y2":{"field":"up"}}},
     {"data":{"values":[{"x":0,"e":1,"lo":-50,"hi":20}]},"mark":{"type":"rect","stroke":"#222","strokeWidth":0.6,"color":{"gradient":"linear","x1":0,"y1":1,"x2":0,"y2":0,"stops":[{"offset":0,"color":"#dcdcdc"},{"offset":0.2,"color":"#0000ff"},{"offset":0.257,"color":"#0030c0"},{"offset":0.343,"color":"#009090"},{"offset":0.443,"color":"#00ff00"},{"offset":0.614,"color":"#ffff00"},{"offset":0.743,"color":"#ff9000"},{"offset":0.843,"color":"#ff0000"},{"offset":0.929,"color":"#b40030"},{"offset":1,"color":"#800080"}]}},"encoding":{"x2":{"field":"e"},"y2":{"field":"hi"}}}
    ]}
  ]},
  {"spacing":17,"resolve":{"scale":{"color":"independent"}},"hconcat":[
   {"width":596,"height":351,"title":"DCR - RPG-Radiometer Physics RPG-FMCW-94",
    "data":{"name":"cells"},"transform":[{"filter":"isValid(datum.v)"}],
    "mark":{"type":"rect"},
    "encoding":{
     "x":{"field":"t","type":"quantitative","scale":{"domain":[0,24],"nice":false},"axis":{"title":"Time [UTC]","titlePadding":9,"values":[0,1,2,3,4,5,6,7,8,9,10,11,12,13,14,15,16,17,18,19,20,21,22,23],"labelExpr":"datum.value % 3 == 0 ? (datum.value < 10 ? '0' : '') + datum.value + ':00' : ''","tickSize":{"expr":"datum.value % 3 == 0 ? 5 : 3"},"gridOpacity":{"expr":"datum.value % 3 == 0 && datum.value > 0 ? 1 : 0"}}},
     "x2":{"field":"e"},
     "y":{"field":"a","type":"quantitative","scale":{"domain":[0,2500],"nice":false},"axis":{"title":"Altitude [m AGL]","titlePadding":9,"values":[0,100,200,300,400,500,600,700,800,900,1000,1100,1200,1300,1400,1500,1600,1700,1800,1900,2000,2100,2200,2300,2400,2500],"labelExpr":"datum.value % 500 == 0 ? datum.label : ''","format":"d","tickSize":{"expr":"datum.value % 500 == 0 ? 5 : 3"},"gridOpacity":{"expr":"datum.value % 500 == 0 && datum.value > 0 && datum.value < 2500 ? 1 : 0"}}},
     "y2":{"field":"b"},
     "color":{"field":"v","type":"quantitative","legend":null,"scale":{"interpolate":"rgb","domain":[-4,-3,-2,-1,0,1,2,3,4],"range":["#3b4cc0","#6282ea","#8db0fe","#b8d0f9","#dddcdc","#f5c4ac","#f49a7b","#e0654f","#b40426"]}}}},
   {"width":18,"height":351,"view":{"stroke":null},
    "encoding":{"x":{"field":"x","type":"quantitative","scale":{"domain":[0,1],"nice":false},"axis":null},
     "y":{"field":"lo","type":"quantitative","scale":{"domain":[-4.4,4.4],"nice":false,"zero":false},"axis":{"orient":"right","title":"Velocity [m.s⁻¹]","titleFontSize":16.9,"titleAngle":270,"titlePadding":26,"grid":false,"domain":false,"values":[-4,-2,0,2,4],"format":"d","tickSize":5}}},
    "layer":[
     {"data":{"values":[{"x":0,"lo":-4,"up":-4},{"x":0.5,"lo":-4,"up":-4.4},{"x":1,"lo":-4,"up":-4}]},"mark":{"type":"area","color":"#3b4cc0","stroke":"#222","strokeWidth":0.6},"encoding":{"y":{"field":"lo","type":"quantitative"},"y2":{"field":"up"}}},
     {"data":{"values":[{"x":0,"lo":4,"up":4},{"x":0.5,"lo":4,"up":4.4},{"x":1,"lo":4,"up":4}]},"mark":{"type":"area","color":"#b40426","stroke":"#222","strokeWidth":0.6},"encoding":{"y":{"field":"lo","type":"quantitative"},"y2":{"field":"up"}}},
     {"data":{"values":[{"x":0,"e":1,"lo":-4,"hi":4}]},"mark":{"type":"rect","stroke":"#222","strokeWidth":0.6,"color":{"gradient":"linear","x1":0,"y1":1,"x2":0,"y2":0,"stops":[{"offset":0,"color":"#3b4cc0"},{"offset":0.125,"color":"#6282ea"},{"offset":0.25,"color":"#8db0fe"},{"offset":0.375,"color":"#b8d0f9"},{"offset":0.5,"color":"#dddcdc"},{"offset":0.625,"color":"#f5c4ac"},{"offset":0.75,"color":"#f49a7b"},{"offset":0.875,"color":"#e0654f"},{"offset":1,"color":"#b40426"}]}},"encoding":{"x2":{"field":"e"},"y2":{"field":"hi"}}}
    ]}
  ]}
 ]},
 {"spacing":110,"resolve":{"scale":{"color":"independent"}},"hconcat":[
  {"width":597,"height":351,"title":"Disdrometer and Weather station",
   "encoding":{
    "x":{"field":"h","type":"quantitative","scale":{"domain":[0,24],"nice":false},"axis":{"title":"Time [UTC]","titlePadding":9,"values":[0,1,2,3,4,5,6,7,8,9,10,11,12,13,14,15,16,17,18,19,20,21,22,23],"labelExpr":"datum.value % 3 == 0 ? (datum.value < 10 ? '0' : '') + datum.value + ':00' : ''","tickSize":{"expr":"datum.value % 3 == 0 ? 5 : 3"},"gridOpacity":{"expr":"datum.value % 3 == 0 && datum.value > 0 ? 1 : 0"}}},
    "y":{"field":"m","type":"quantitative","scale":{"domain":[-0.46,10],"nice":false,"zero":false},"axis":{"title":"Cumulative rainfall [mm]","titlePadding":29,"values":[0,1,2,3,4,5,6,7,8,9,10],"labelExpr":"datum.value % 2 == 0 ? datum.label : ''","tickSize":{"expr":"datum.value % 2 == 0 ? 5 : 3"},"gridOpacity":{"expr":"datum.value % 2 == 0 && datum.value < 10 ? 1 : 0"}}}},
   "layer":[
    {"data":{"name":"rain"},"mark":{"type":"line","strokeWidth":2.5,"color":"#f28a64"}},
    {"data":{"values":[{"h":13.24,"h2":23.63,"m":-0.21,"m2":0.7}]},"mark":{"type":"rect","fill":"white","fillOpacity":0.85,"stroke":"#cccccc","strokeWidth":1,"cornerRadius":3},"encoding":{"x2":{"field":"h2"},"y2":{"field":"m2"}}},
    {"data":{"values":[{"h":13.49,"h2":15,"m":0.27}]},"mark":{"type":"rule","strokeWidth":2.5,"color":"#f28a64"},"encoding":{"x2":{"field":"h2"}}},
    {"data":{"values":[{"h":15.34,"m":0.27,"s":"OTT HydroMet Parsivel2"}]},"mark":{"type":"text","fontSize":16.6,"align":"left","baseline":"middle","color":"black"},"encoding":{"text":{"field":"s"}}}
   ]},
  {"width":596,"height":351,"title":"Relationship disdrometer fall speed / drop size",
   "data":{"values":[{"d":2,"s":4,"note":"No fit"}]},
   "mark":{"type":"text","fontSize":19.4,"fontStyle":"italic","align":"left","baseline":"alphabetic","color":"black"},
   "encoding":{
    "x":{"field":"d","type":"quantitative","scale":{"domain":[0,5],"nice":false},"axis":{"title":"Diameter [mm]","titlePadding":9,"format":".0f","values":[0,0.5,1,1.5,2,2.5,3,3.5,4,4.5,5],"labelExpr":"datum.value % 1 == 0 ? datum.label : ''","tickSize":{"expr":"datum.value % 1 == 0 ? 5 : 3"},"gridOpacity":{"expr":"datum.value % 1 == 0 && datum.value > 0 && datum.value < 5 ? 1 : 0"}}},
    "y":{"field":"s","type":"quantitative","scale":{"domain":[0,10],"nice":false},"axis":{"title":"Fall speed [m.s⁻¹]","titlePadding":34,"values":[0,1,2,3,4,5,6,7,8,9,10],"labelExpr":"datum.value % 2 == 0 ? datum.label : ''","tickSize":{"expr":"datum.value % 2 == 0 ? 5 : 3"},"gridOpacity":{"expr":"datum.value % 2 == 0 && datum.value > 0 && datum.value < 10 ? 1 : 0"}}},
    "text":{"field":"note"}}}
 ]}
]}
]}
